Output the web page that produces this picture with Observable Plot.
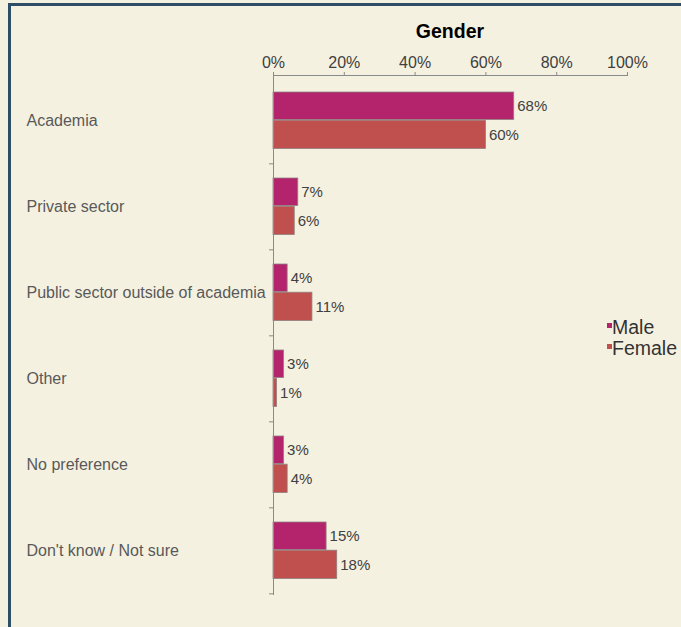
<!DOCTYPE html>
<html><head><meta charset="utf-8">
<script src="https://cdn.jsdelivr.net/npm/d3@7"></script>
<script src="https://cdn.jsdelivr.net/npm/@observablehq/plot@0.6"></script>
<style>
html,body{margin:0;padding:0;background:#f5f1e1;}
#wrap{position:relative;width:681px;height:627px;overflow:hidden;background:#f5f1e1;font-family:"Liberation Sans",Arial,sans-serif;}
#border{position:absolute;left:8px;top:3px;width:800px;height:800px;border:3px solid #2e4d66;box-sizing:border-box;}
#chart{position:absolute;left:0;top:0;}
#title{position:absolute;left:273px;width:354px;top:21px;text-align:center;font-weight:bold;font-size:19.5px;line-height:20px;color:#000;}
#legend{position:absolute;left:607px;top:317px;font-size:19.5px;line-height:21px;color:#333;}
.row{position:relative;height:21px;padding-left:5px;white-space:nowrap;}
.sw{position:absolute;left:0;top:6px;width:5px;height:5px;}
</style></head>
<body>
<div id="wrap">
  <div id="border"></div>
  <div id="chart"></div>
  <div id="title"></div>
  <div id="legend"></div>
</div>
<script>
const title = "Gender";
const categories = ["Academia", "Private sector", "Public sector outside of academia", "Other", "No preference", "Don't know / Not sure"];
const series = ["Male", "Female"];
const male = [68, 7, 4, 3, 3, 15];
const female = [60, 6, 11, 1, 4, 18];
const colors = ["#b3246c", "#c0504d"];
const xTicks = [0, 20, 40, 60, 80, 100];

const rows = categories.map((c, i) => ({category: c, male: male[i], female: female[i]}));
const font = "Liberation Sans, Arial, sans-serif";

const chart = Plot.plot({
  width: 681,
  height: 627,
  marginLeft: 273,
  marginRight: 54,
  marginTop: 75,
  marginBottom: 32,
  style: {background: "transparent", fontFamily: font, overflow: "visible"},
  x: {domain: [0, 100], label: null},
  y: {domain: categories, padding: 0, label: null},
  marks: [
    Plot.barX(rows, {y: "category", x: "male", fill: colors[0], stroke: "#8f8080", strokeWidth: 0.8, insetTop: 15, insetBottom: 43.5}),
    Plot.barX(rows, {y: "category", x: "female", fill: colors[1], stroke: "#8f8080", strokeWidth: 0.8, insetTop: 43.2, insetBottom: 14.5}),
    Plot.text(rows, {y: "category", x: "male", text: d => d.male + "%", textAnchor: "start", dx: 3, dy: -14.3, fontSize: 15, fill: "#404040"}),
    Plot.text(rows, {y: "category", x: "female", text: d => d.female + "%", textAnchor: "start", dx: 3, dy: 14.3, fontSize: 15, fill: "#404040"}),
    Plot.text(categories, {y: d => d, frameAnchor: "left", textAnchor: "start", dx: -247, fontSize: 16, fill: "#595959"}),
    Plot.ruleX([0], {stroke: "#8a8a8a"}),
    Plot.frame({anchor: "top", stroke: "#8a8a8a"}),
    Plot.axisY({tickSize: 4, tickFormat: () => "", dy: 43.33, stroke: "#8a8a8a", label: null}),
    Plot.axisX(xTicks, {anchor: "top", tickFormat: d => d + "%", tickSize: 4, tickPadding: 4, fontSize: 16, stroke: "#8a8a8a", fill: "#404040", label: null})
  ]
});
document.getElementById("chart").appendChild(chart);
document.getElementById("title").textContent = title;

const legend = document.getElementById("legend");
series.forEach((s, i) => {
  const row = document.createElement("div");
  row.className = "row";
  const sw = document.createElement("span");
  sw.className = "sw";
  sw.style.background = colors[i];
  row.appendChild(sw);
  row.appendChild(document.createTextNode(s));
  legend.appendChild(row);
});
</script>
</body></html>
